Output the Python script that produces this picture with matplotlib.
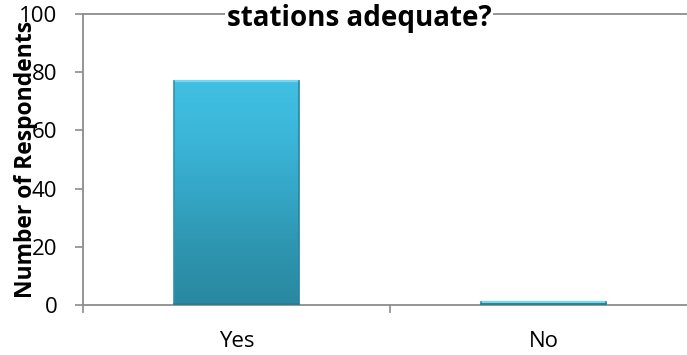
import matplotlib
matplotlib.use("Agg")
import matplotlib.pyplot as plt
import numpy as np
from matplotlib.colors import LinearSegmentedColormap

categories = ["Yes", "No"]
values = [77, 1]
yticks = [0, 20, 40, 60, 80, 100]
title_text = "stations adequate?"
ylabel_text = "Number of Respondents"

W, H = 687, 355
fig = plt.figure(figsize=(W / 100, H / 100), dpi=100)
x0, x1 = 83, 697
y0, y1 = 305, 14
ax = fig.add_axes([x0 / W, (H - y0) / H, (x1 - x0) / W, (y0 - y1) / H])

gray = "#8c8c8c"
bars = ax.bar(range(len(categories)), values, width=0.404, color="#38acd0",
              edgecolor="none", zorder=2)

cmap = LinearSegmentedColormap.from_list(
    "bar", ["#2a88a1", "#2e95b0", "#35a6c6", "#3bb6d9", "#40c0e2"])
grad = np.linspace(0, 1, 256).reshape(-1, 1)
for b in bars:
    bx, bw, bh = b.get_x(), b.get_width(), b.get_height()
    im = ax.imshow(grad, cmap=cmap, origin="lower", aspect="auto",
                   extent=[bx, bx + bw, 0, bh], zorder=3, interpolation="bilinear")
    im.set_clip_path(b)
    ax.plot([bx, bx + bw], [bh, bh], color="#72d8f4", lw=1.6, zorder=4, solid_capstyle="butt")
    ax.plot([bx, bx], [0, bh], color="#2f93ae", lw=1.2, zorder=4)
    ax.plot([bx + bw, bx + bw], [0, bh], color="#2a84a0", lw=1.2, zorder=4)
    ax.plot([bx, bx + bw], [0.3, 0.3], color="#287d95", lw=1.2, zorder=4)

ax.set_xlim(-0.5, 1.5)
ax.set_ylim(0, 100)
ax.set_yticks(yticks)
ax.set_xticks(range(len(categories)))
ax.set_xticklabels(categories)
ax.set_xticks([-0.5, 0.5, 1.5], minor=True)
ax.tick_params(axis="x", which="major", length=0, pad=19, labelsize=16)
ax.tick_params(axis="x", which="minor", length=6, width=1.2, color=gray, direction="out")
ax.tick_params(axis="y", length=6, width=1.2, color=gray, direction="out", pad=12.5, labelsize=16)
for lab in ax.get_xticklabels() + ax.get_yticklabels():
    lab.set_family("Open Sans")

for s in ["left", "bottom", "top"]:
    ax.spines[s].set_color(gray)
    ax.spines[s].set_linewidth(1.3)
ax.spines["right"].set_visible(False)

ax.set_ylabel(ylabel_text, fontsize=16.5, fontweight="bold", family="Open Sans")
ax.yaxis.set_label_coords(-(x0 - 38) / (x1 - x0), 0.5)

fig.text(359 / W, 1 - 26 / H, title_text, ha="center", va="baseline",
         fontsize=20, fontweight="bold", family="Open Sans",
         bbox=dict(facecolor="white", edgecolor="none", pad=1), zorder=10)

fig.savefig("out.png", dpi=100)
